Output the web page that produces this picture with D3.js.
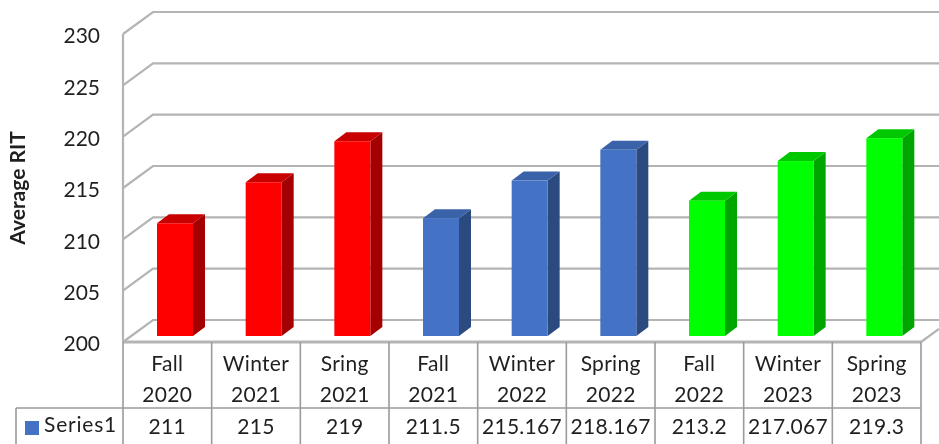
<!DOCTYPE html>
<html>
<head lang="en">
    <meta charset="UTF-8">
    <title></title>
    <style>
        html, body { margin: 0; background: #fff; }
        svg { display: block; font-family: Lato, sans-serif; filter: blur(0.6px); }
        .tick text { fill: #1f1f1f; }
    </style>
</head>
<body>
    <svg id="chart" width="939" height="444"></svg>
<script src="https://d3js.org/d3.v7.min.js"></script>
<script>
    let terms = ["Fall", "Winter", "Sring", "Fall", "Winter", "Spring", "Fall", "Winter", "Spring"];
    let years = ["2020", "2021", "2021", "2021", "2022", "2022", "2022", "2023", "2023"];
    let values = [211, 215, 219, 211.5, 215.167, 218.167, 213.2, 217.067, 219.3];
    let valueLabels = ["211", "215", "219", "211.5", "215.167", "218.167", "213.2", "217.067", "219.3"];
    let groups = ["red", "red", "red", "blue", "blue", "blue", "green", "green", "green"];
    let yTicks = [200, 205, 210, 215, 220, 225, 230];
    let seriesName = "Series1";

    let palette = {
        red: { front: "#ff0000", top: "#c80000", side: "#a50000" },
        blue: { front: "#4472c4", top: "#3a62a9", side: "#2b4a80" },
        green: { front: "#00ff00", top: "#00c800", side: "#00a600" }
    };

    let svg = d3.select("#chart");
    let ids = values.map((d, i) => i);

    let left = 123, right = 921, depthX = 30, depthY = 22;
    let wallFront = d3.scaleLinear().domain([200, 230]).range([342, 34]);
    let wallBack = d3.scaleLinear().domain([200, 230]).range([320, 12]);
    let barY = d3.scaleLinear().domain([200, 230]).range([336, 28.5]);
    let x = d3.scaleBand().domain(ids).range([left, right]).paddingInner(0).paddingOuter(0);
    let barW = 36, barOff = 34, barDX = 12, barDY = 9;

    // walls and gridlines
    let grey = "#b4b4b4";
    let grid = svg.append("g").attr("fill", "none").attr("stroke", grey).attr("stroke-width", 2.2);
    grid.selectAll("path.gl").data(yTicks).join("path")
        .attr("class", "gl")
        .attr("d", d => `M${left},${wallFront(d)}L${left + depthX},${wallBack(d)}L939,${wallBack(d)}`);
    grid.append("line").attr("x1", left).attr("x2", left).attr("y1", wallFront(230)).attr("y2", wallFront(200));
    grid.append("line").attr("x1", left).attr("x2", right).attr("y1", wallFront(200)).attr("y2", wallFront(200)).attr("stroke-width", 3);
    grid.append("line").attr("x1", right).attr("x2", 939).attr("y1", wallFront(200)).attr("y2", wallFront(200) - 13);

    // axis labels
    let axis = svg.append("g").attr("transform", "translate(108,0)")
        .call(d3.axisLeft(wallFront).tickValues(yTicks).tickSize(0).tickFormat(d3.format("d")));
    axis.select(".domain").remove();
    axis.selectAll("text").attr("font-size", 21).attr("font-family", "Lato, sans-serif").attr("x", -8).attr("dy", "0.42em");

    svg.append("text")
        .attr("transform", "translate(25,188) rotate(-90)")
        .attr("text-anchor", "middle")
        .attr("font-size", 21).attr("font-weight", 700).attr("fill", "#1f1f1f")
        .text("Average RIT");

    // bars
    let bars = svg.append("g").selectAll("g").data(ids).join("g");
    bars.append("path")
        .attr("fill", i => palette[groups[i]].side)
        .attr("d", i => {
            let x0 = x(i) + barOff + barW, yT = barY(values[i]), yB = barY(200);
            return `M${x0},${yT}L${x0 + barDX},${yT - barDY}L${x0 + barDX},${yB - barDY}L${x0},${yB}Z`;
        });
    bars.append("path")
        .attr("fill", i => palette[groups[i]].top)
        .attr("d", i => {
            let x0 = x(i) + barOff, yT = barY(values[i]);
            return `M${x0},${yT}L${x0 + barDX},${yT - barDY}L${x0 + barW + barDX},${yT - barDY}L${x0 + barW},${yT}Z`;
        });
    bars.append("rect")
        .attr("fill", i => palette[groups[i]].front)
        .attr("x", i => x(i) + barOff)
        .attr("y", i => barY(values[i]))
        .attr("width", barW)
        .attr("height", i => barY(200) - barY(values[i]));

    // data table
    let rowTop = 342, rowMid = 408, rowEnd = 444;
    let table = svg.append("g").attr("stroke", "#9a9a9a").attr("stroke-width", 1.6);
    table.selectAll("line.col").data(d3.range(terms.length + 1)).join("line")
        .attr("class", "col")
        .attr("x1", i => left + i * x.bandwidth())
        .attr("x2", i => left + i * x.bandwidth())
        .attr("y1", rowTop).attr("y2", rowEnd);
    table.append("line").attr("x1", 16).attr("x2", right).attr("y1", rowMid).attr("y2", rowMid);
    table.append("line").attr("x1", 16).attr("x2", 16).attr("y1", rowMid).attr("y2", rowEnd);

    let cell = (text, cx, cy) => svg.append("text")
        .attr("x", cx).attr("y", cy)
        .attr("text-anchor", "middle")
        .attr("font-size", 21).attr("letter-spacing", 0.3).attr("fill", "#1f1f1f")
        .text(text);

    ids.forEach(i => {
        let cx = x(i) + x.bandwidth() / 2;
        cell(terms[i], cx, 371);
        cell(years[i], cx, 402);
        cell(valueLabels[i], cx, 434);
    });

    svg.append("rect").attr("x", 25).attr("y", 421).attr("width", 14).attr("height", 14).attr("fill", palette.blue.front);
    svg.append("text").attr("x", 44).attr("y", 432).attr("font-size", 21).attr("letter-spacing", 0.8).attr("fill", "#1f1f1f").text(seriesName);
</script>
</body>
</html>
